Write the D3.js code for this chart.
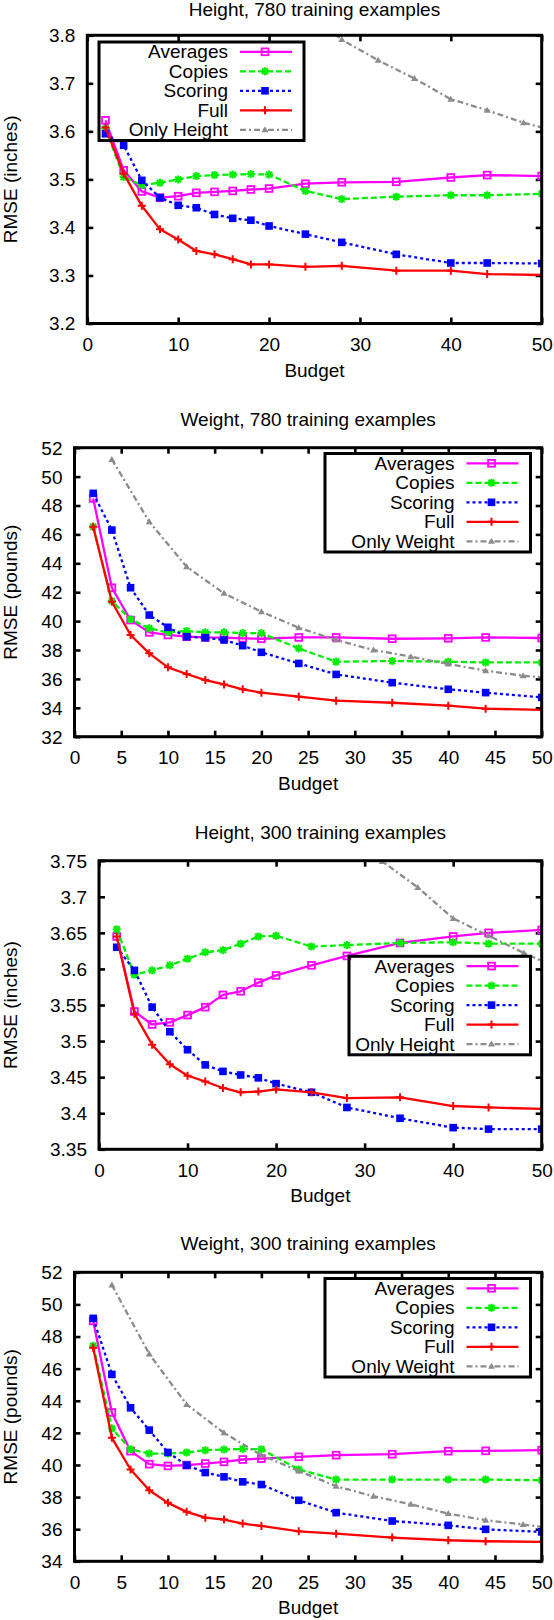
<!DOCTYPE html>
<html><head><meta charset="utf-8">
<script src="https://cdn.jsdelivr.net/npm/d3@7"></script>
<style>
body{margin:0;background:#fff}
svg{display:block}
text{font-family:"Liberation Sans",Arial,Helvetica,sans-serif;font-size:19px;fill:#000}
</style></head>
<body><svg id="c" width="554" height="1620"></svg>
<script>
// ---- data ----
const budgets = [2,4,6,8,10,12,14,16,18,20,24,28,34,40,44,50];
const onlyBudgets = [4,8,12,16,20,24,28,32,36,40,44,48,50];

const h780Averages = [3.623,3.519,3.475,3.462,3.465,3.472,3.474,3.476,3.479,3.481,3.491,3.494,3.495,3.504,3.509,3.507];
const h780Copies   = [3.606,3.505,3.488,3.493,3.500,3.507,3.509,3.510,3.511,3.510,3.476,3.459,3.464,3.467,3.467,3.470];
const h780Scoring  = [3.595,3.571,3.498,3.462,3.446,3.441,3.427,3.419,3.415,3.403,3.386,3.369,3.344,3.326,3.326,3.325];
const h780Full     = [3.608,3.512,3.445,3.396,3.375,3.351,3.344,3.334,3.323,3.323,3.318,3.320,3.310,3.310,3.303,3.301];
const h780Only     = [4.66,4.36,4.14,4.01,3.92,3.85,3.791,3.748,3.710,3.667,3.644,3.618,3.608];

const w780Averages = [48.49,42.31,40.07,39.22,39.04,38.92,38.87,38.85,38.81,38.78,38.87,38.87,38.78,38.81,38.87,38.83];
const w780Copies   = [46.53,41.39,40.12,39.50,39.22,39.31,39.22,39.22,39.17,39.17,38.11,37.19,37.24,37.19,37.14,37.14];
const w780Scoring  = [48.84,46.30,42.31,40.42,39.57,38.92,38.85,38.69,38.30,37.84,37.07,36.31,35.74,35.28,35.05,34.72];
const w780Full     = [46.53,41.34,39.04,37.77,36.80,36.34,35.92,35.62,35.28,35.05,34.77,34.49,34.35,34.15,33.94,33.85];
const w780Only     = [51.19,46.88,43.76,41.92,40.65,39.54,38.69,38.00,37.54,37.03,36.57,36.22,36.11];

const h300Averages = [3.645,3.541,3.523,3.526,3.536,3.547,3.564,3.569,3.581,3.591,3.605,3.618,3.636,3.645,3.650,3.654];
const h300Copies   = [3.655,3.592,3.598,3.605,3.614,3.623,3.626,3.635,3.645,3.646,3.631,3.633,3.636,3.637,3.635,3.635];
const h300Scoring  = [3.630,3.598,3.547,3.513,3.488,3.467,3.458,3.453,3.449,3.441,3.429,3.408,3.393,3.380,3.378,3.378];
const h300Full     = [3.645,3.538,3.495,3.468,3.452,3.444,3.435,3.429,3.430,3.433,3.429,3.421,3.422,3.410,3.408,3.406];
const h300Only     = [4.66,4.36,4.14,4.01,3.92,3.85,3.79,3.749,3.713,3.670,3.646,3.622,3.611];

const w300Averages = [48.97,43.27,40.86,40.05,39.94,39.99,40.09,40.19,40.34,40.40,40.51,40.61,40.67,40.86,40.88,40.92];
const w300Copies   = [47.43,42.27,40.98,40.71,40.71,40.78,40.92,40.96,41.00,40.98,39.72,39.09,39.09,39.09,39.09,39.05];
const w300Scoring  = [49.13,45.64,43.56,42.17,40.78,39.99,39.53,39.26,38.95,38.78,37.80,37.03,36.51,36.24,35.99,35.83];
const w300Full     = [47.30,41.69,39.72,38.43,37.64,37.08,36.72,36.60,36.35,36.20,35.87,35.72,35.48,35.31,35.25,35.21];
const w300Only     = [51.21,46.91,43.77,42.00,40.61,39.63,38.68,38.05,37.55,36.97,36.56,36.29,36.14];

const titles = ["Height, 780 training examples","Weight, 780 training examples","Height, 300 training examples","Weight, 300 training examples"];
const yLabels = ["RMSE (inches)","RMSE (pounds)","RMSE (inches)","RMSE (pounds)"];
const seriesNames = ["Averages","Copies","Scoring","Full"];
const onlyNames = ["Only Height","Only Weight","Only Height","Only Weight"];
const xTicksWide = [0,10,20,30,40,50];
const xTicksFine = [0,5,10,15,20,25,30,35,40,45,50];
const yTicksH780 = [3.2,3.3,3.4,3.5,3.6,3.7,3.8];
const yTicksW780 = [32,34,36,38,40,42,44,46,48,50,52];
const yTicksH300 = [3.35,3.4,3.45,3.5,3.55,3.6,3.65,3.7,3.75];
const yTicksW300 = [34,36,38,40,42,44,46,48,50,52];

// ---- layout / styles ----
const styles = [
  {color:"#ff00ff", dash:null, marker:"osquare"},
  {color:"#00ee00", dash:"6,3", marker:"asterisk"},
  {color:"#0000ff", dash:"3,3", marker:"fsquare"},
  {color:"#ff0000", dash:null, marker:"plus"},
  {color:"#8c8c8c", dash:"6,3,2,3", marker:"triangle"}
];

const panels = [
  {x0:87.3,x1:541.7,y0:35.3,y1:323.5, yDom:[3.2,3.8], yTicks:yTicksH780, xTicks:xTicksWide,
   series:[h780Averages,h780Copies,h780Scoring,h780Full], only:h780Only, leg:{l:99,r:304,t:42}},
  {x0:74.5,x1:541.7,y0:447.7,y1:736.7, yDom:[32,52], yTicks:yTicksW780, xTicks:xTicksFine,
   series:[w780Averages,w780Copies,w780Scoring,w780Full], only:w780Only, leg:{l:325,r:530.5,t:453.5}},
  {x0:99,x1:541.7,y0:860.7,y1:1149.3, yDom:[3.35,3.75], yTicks:yTicksH300, xTicks:xTicksWide,
   series:[h300Averages,h300Copies,h300Scoring,h300Full], only:h300Only, leg:{l:349,r:530.5,t:956.3}},
  {x0:74.5,x1:541.7,y0:1272.3,y1:1561.3, yDom:[34,52], yTicks:yTicksW300, xTicks:xTicksFine,
   series:[w300Averages,w300Copies,w300Scoring,w300Full], only:w300Only, leg:{l:325,r:530.5,t:1278.5}}
];

const svg = d3.select("#c");

function drawMarker(g, type, x, y, color){
  const s = 3.4;
  if(type==="osquare"){
    g.append("rect").attr("x",x-s).attr("y",y-s).attr("width",2*s).attr("height",2*s)
      .attr("fill","none").attr("stroke",color).attr("stroke-width",1.8);
  } else if(type==="fsquare"){
    g.append("rect").attr("x",x-s-0.4).attr("y",y-s-0.4).attr("width",2*s+0.8).attr("height",2*s+0.8)
      .attr("fill",color);
  } else if(type==="plus"){
    g.append("path").attr("d",`M${x-4},${y}H${x+4}M${x},${y-4}V${y+4}`)
      .attr("stroke",color).attr("stroke-width",2).attr("fill","none");
  } else if(type==="asterisk"){
    g.append("path").attr("d",`M${x-4},${y}H${x+4}M${x},${y-4}V${y+4}M${x-3},${y-3}L${x+3},${y+3}M${x-3},${y+3}L${x+3},${y-3}`)
      .attr("stroke",color).attr("stroke-width",2).attr("fill","none");
  } else if(type==="triangle"){
    g.append("path").attr("d",`M${x},${y-3.5}L${x+3.5},${y+2.5}L${x-3.5},${y+2.5}Z`).attr("fill",color);
  }
}

panels.forEach((p, i) => {
  const x = d3.scaleLinear().domain([0,50]).range([p.x0,p.x1]);
  const y = d3.scaleLinear().domain(p.yDom).range([p.y1,p.y0]);
  const g = svg.append("g");
  const clipId = "clip"+i;
  svg.append("clipPath").attr("id",clipId).append("rect")
    .attr("x",p.x0).attr("y",p.y0).attr("width",p.x1-p.x0).attr("height",p.y1-p.y0);

  // title
  g.append("text").attr("x",(p.x0+p.x1)/2).attr("y",Math.max(p.y0-22,15.5)).attr("text-anchor","middle").text(titles[i]);
  // axis labels
  g.append("text").attr("x",(p.x0+p.x1)/2).attr("y",p.y1+53).attr("text-anchor","middle").text("Budget");
  g.append("text").attr("transform",`translate(16.5,${(p.y0+p.y1)/2}) rotate(-90)`).attr("text-anchor","middle").text(yLabels[i]);

  // axes with inward ticks
  const fmt = d => String(+d.toFixed(2));
  const axL = g.append("g").attr("transform",`translate(${p.x0},0)`)
    .call(d3.axisLeft(y).tickValues(p.yTicks).tickFormat(fmt).tickSizeInner(-6).tickSizeOuter(0).tickPadding(12));
  const axR = g.append("g").attr("transform",`translate(${p.x1},0)`)
    .call(d3.axisRight(y).tickValues(p.yTicks).tickFormat("").tickSizeInner(-6).tickSizeOuter(0));
  const axB = g.append("g").attr("transform",`translate(0,${p.y1})`)
    .call(d3.axisBottom(x).tickValues(p.xTicks).tickFormat(d3.format("d")).tickSizeInner(-6).tickSizeOuter(0).tickPadding(14));
  const axT = g.append("g").attr("transform",`translate(0,${p.y0})`)
    .call(d3.axisTop(x).tickValues(p.xTicks).tickFormat("").tickSizeInner(-6).tickSizeOuter(0));
  [axL,axR,axB,axT].forEach(a => {
    a.select(".domain").remove();
    a.selectAll(".tick line").attr("stroke","#000").attr("stroke-width",2.6);
    a.selectAll("text").attr("font-size",19).attr("font-family","Liberation Sans, Arial, sans-serif").attr("fill","#000");
  });
  axL.selectAll("text").attr("dy","0.34em");
  axB.selectAll("text").attr("dy","0.72em");

  // lines
  const plot = g.append("g").attr("clip-path",`url(#${clipId})`);
  const line = d3.line().x(d=>x(d[0])).y(d=>y(d[1]));
  const allSeries = p.series.map((vals,k)=>({pts:budgets.map((b,j)=>[b,vals[j]]), st:styles[k], markAll:true}));
  allSeries.push({pts:onlyBudgets.map((b,j)=>[b,p.only[j]]), st:styles[4], markAll:false});
  allSeries.forEach(s => {
    const path = plot.append("path").datum(s.pts).attr("d",line)
      .attr("fill","none").attr("stroke",s.st.color).attr("stroke-width",2.3)
      .attr("stroke-linejoin","round");
    if(s.st.dash) path.attr("stroke-dasharray",s.st.dash);
    const mg = plot.append("g");
    s.pts.forEach((d,j) => {
      if(!s.markAll && j===s.pts.length-1) return;
      drawMarker(mg, s.st.marker, x(d[0]), y(d[1]), s.st.color);
    });
  });

  // frame
  g.append("rect").attr("x",p.x0).attr("y",p.y0).attr("width",p.x1-p.x0).attr("height",p.y1-p.y0)
    .attr("fill","none").attr("stroke","#000").attr("stroke-width",3);

  // legend
  const L = p.leg, rowH = 19.5;
  const lg = g.append("g");
  lg.append("rect").attr("x",L.l).attr("y",L.t).attr("width",L.r-L.l).attr("height",rowH*5+1)
    .attr("fill","none").attr("stroke","#000").attr("stroke-width",3);
  const names = seriesNames.concat([onlyNames[i]]);
  names.forEach((nm,k) => {
    const cy = L.t + 9.8 + k*rowH;
    lg.append("text").attr("x",L.r-76).attr("y",cy).attr("dy","0.35em").attr("text-anchor","end").text(nm);
    const ln = lg.append("line").attr("x1",L.r-64).attr("x2",L.r-12).attr("y1",cy).attr("y2",cy)
      .attr("stroke",styles[k].color).attr("stroke-width",2.3);
    if(styles[k].dash) ln.attr("stroke-dasharray",styles[k].dash);
    drawMarker(lg, styles[k].marker, L.r-39, cy, styles[k].color);
  });
});
</script>
</body></html>
